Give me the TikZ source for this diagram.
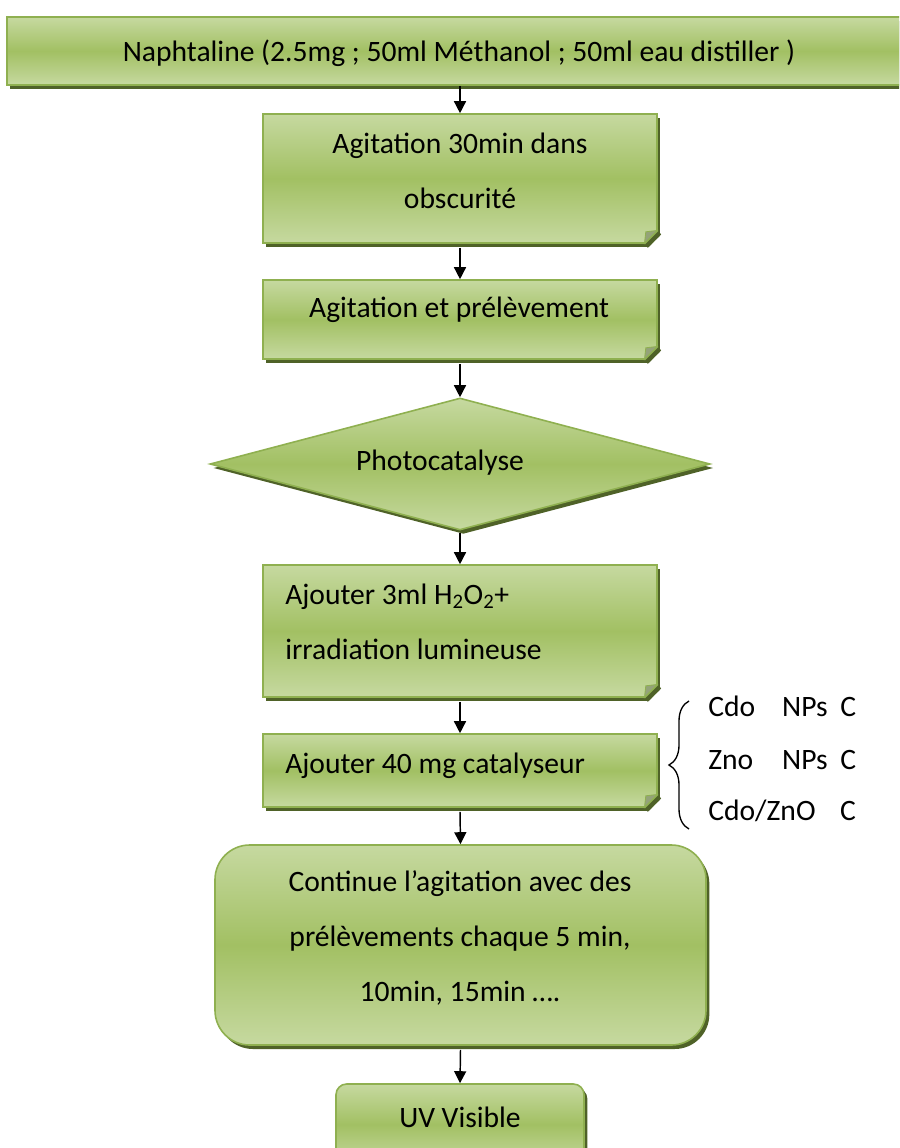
\documentclass[tikz,border=0pt]{standalone}
\usepackage{fontspec}
\setmainfont{Carlito}
\usetikzlibrary{shapes.geometric,shadows,arrows.meta,decorations.pathreplacing,calc}

\definecolor{leafpale}{HTML}{C6D9A0}
\definecolor{leafmid}{HTML}{A2C063}
\definecolor{leafedge}{HTML}{8FB050}
\definecolor{leafdark}{HTML}{4F6228}

\tikzset{
  greenfill/.style={top color=leafpale, bottom color=leafpale, middle color=leafmid, draw=leafedge, line width=1.2pt},
  leafshadow/.style={drop shadow={shadow xshift=2.5pt, shadow yshift=-3pt, fill=leafdark, opacity=1}},
  banner/.style={greenfill, leafshadow, rectangle, minimum width=673.5pt, minimum height=51pt, inner sep=0pt},
  stepbox/.style={greenfill, leafshadow, rectangle, minimum width=295.5pt, inner sep=0pt},
  choice/.style={greenfill, leafshadow, diamond, minimum width=375pt, minimum height=99pt, inner sep=0pt},
  roundbox/.style={greenfill, leafshadow, rectangle, rounded corners=#1, inner sep=0pt},
  fold/.style={fill=leafpale!75!black, draw=leafedge, line width=0.6pt},
  txt/.style={font=\fontsize{22.2}{41}\selectfont, inner sep=0pt, align=center},
  flow/.style={draw, line width=1.1pt, -{Triangle[length=9pt,width=9pt]}}
}
% cut and turned-over corner of the step boxes
\newcommand{\foldcorner}[1]{%
  \coordinate (#1C) at (#1.east |- #1.south);
  \fill[white] ($(#1C)+(-7.5pt,-3.2pt)$) -- ($(#1C)+(-7.5pt,-6pt)$) -- ($(#1C)+(6pt,-6pt)$)
    -- ($(#1C)+(6pt,7pt)$) -- ($(#1C)+(2.7pt,7pt)$) -- cycle;
  \fill[leafdark] ($(#1C)+(-10pt,0)$) -- ($(#1C)+(0,10pt)$) -- ($(#1C)+(2.5pt,7pt)$)
    -- ($(#1C)+(-7.5pt,-3pt)$) -- cycle;
  \draw[leafedge, line width=1.2pt] ($(#1C)+(-10pt,0)$) -- ($(#1C)+(0,10pt)$);
  \filldraw[fold] ($(#1C)+(-10pt,0.4pt)$) -- ($(#1C)+(-0.4pt,10pt)$)
    -- ($(#1C)+(-9pt,9pt)$) -- cycle;}

\begin{document}
\begin{tikzpicture}[x=0.75pt, y=-0.75pt]
  \clip (0,0) rectangle (899,1148);

  % boxes
  \node[banner] (mix) at (456,51) {};
  \node[stepbox, minimum height=96.75pt] (dark) at (460,178.5) {};
  \node[stepbox, minimum height=59.25pt] (sample) at (460,319.5) {};
  \node[choice] (photo) at (460,464) {};
  \node[stepbox, minimum height=99pt] (light) at (460,631) {};
  \node[stepbox, minimum height=54.75pt] (cata) at (460,770.5) {};
  \node[roundbox=26pt, minimum width=368.25pt, minimum height=150pt] (cont) at (460.5,945) {};
  \node[roundbox=8pt, minimum width=186pt, minimum height=60.75pt] (uv) at (460,1124.5) {};

  \foldcorner{dark}
  \foldcorner{sample}
  \foldcorner{light}
  \foldcorner{cata}

  % texts
  \node[txt] (mixT) at (459,53) {Naphtaline (2.5mg ; 50ml Méthanol ; 50ml eau distiller )};
  \node[txt] (darkT) at (460,171) {Agitation 30min dans\\obscurité};
  \node[txt] (sampleT) at (459,310) {Agitation et prélèvement};
  \node[txt] (photoT) at (440,463) {Photocatalyse};
  \node[txt, anchor=west, align=left] (lightT) at (285,622) {Ajouter 3ml H\textsubscript{2}O\textsubscript{2}+\\irradiation lumineuse};
  \node[txt, anchor=west] (cataT) at (285,766) {Ajouter 40 mg catalyseur};
  \node[txt] (contT) at (460,938) {Continue l’agitation avec des\\prélèvements chaque 5 min,\\10min, 15min ….};
  \node[txt] (uvT) at (460,1117) {UV Visible};

  % catalysts
  \node[txt, anchor=west] (cdo) at (708,706) {\makebox[55.5pt][l]{Cdo}\makebox[43.5pt][l]{NPs}C};
  \node[txt, anchor=west] (zno) at (708,760) {\makebox[55.5pt][l]{Zno}\makebox[43.5pt][l]{NPs}C};
  \node[txt, anchor=west] (mixed) at (708,811) {\makebox[99pt][l]{Cdo/ZnO}C};
  \coordinate (braceLow) at (689,829);
  \coordinate (braceHigh) at (689,701);
  \draw[line width=1pt, decorate, decoration={brace, amplitude=15pt}] (braceLow) -- (braceHigh);

  % arrows
  \path[flow] (mix.south -| dark.north) -- (dark.north);
  \path[flow] ([yshift=-3pt]dark.south) -- (sample.north);
  \path[flow] ([yshift=-3pt]sample.south) -- (photo.north);
  \path[flow] ([yshift=-2pt]photo.south) -- (light.north);
  \path[flow] ([yshift=-3pt]light.south) -- (cata.north);
  \path[flow] ([yshift=-3pt]cata.south) -- (cont.north);
  \path[flow] ([yshift=-3pt]cont.south) -- (uv.north);
\end{tikzpicture}
\end{document}
